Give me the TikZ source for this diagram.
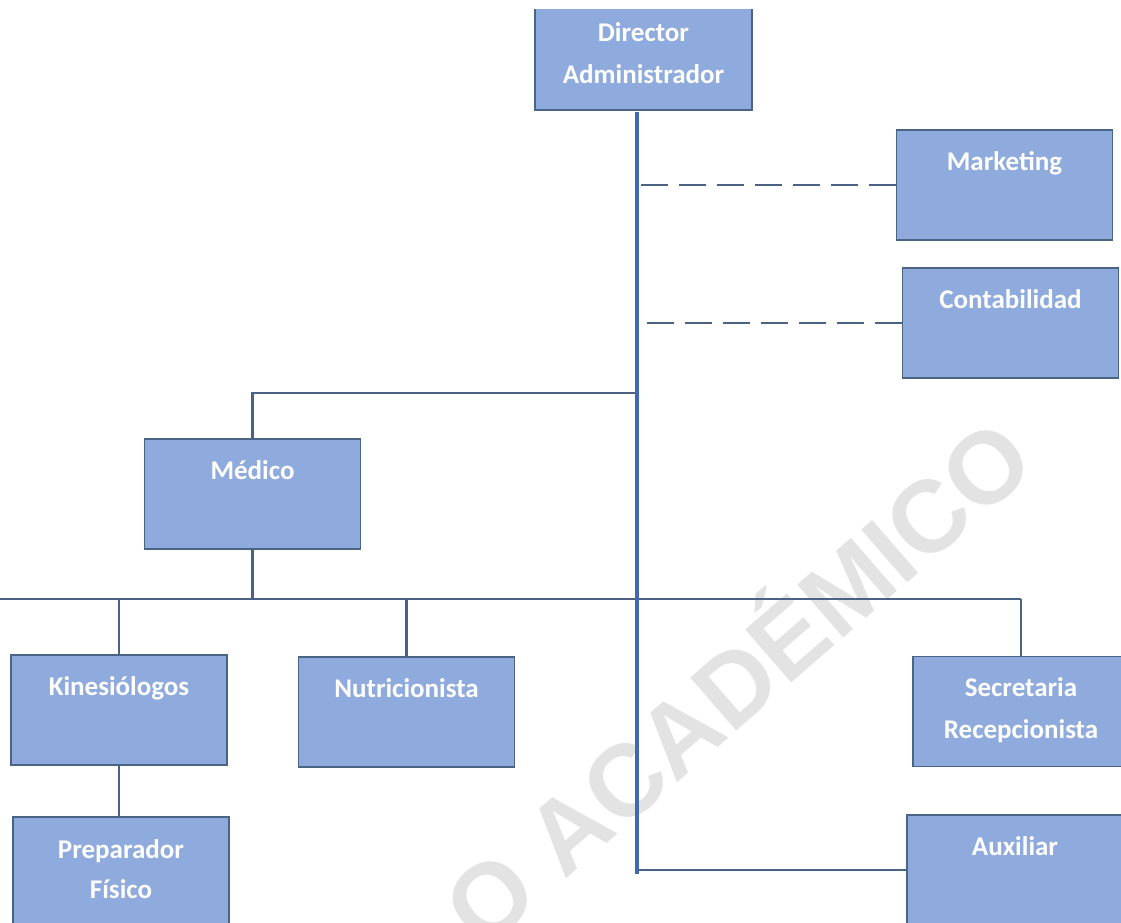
\documentclass[tikz,border=0pt]{standalone}
\usepackage{fontspec}
\setmainfont{Carlito}
\newfontfamily\markfont{Liberation Sans}
\usetikzlibrary{positioning}
\definecolor{boxfill}{HTML}{8FAADC}
\definecolor{boxedge}{HTML}{4A6584}
\definecolor{linkcol}{HTML}{4C6283}
\definecolor{trunkcol}{HTML}{4169B0}
\definecolor{markgray}{HTML}{E3E3E3}
\tikzset{%
  % Specifications for style of nodes:
    post/.style = {rectangle, draw=boxedge, fill=boxfill, line width=1.6pt,
                   minimum width=216pt, minimum height=110pt, inner sep=0pt},
    title/.style = {inner sep=0pt, align=center, text=white,
                    font=\bfseries\fontsize{27}{42}\selectfont},
    link/.style = {draw=linkcol, line width=2.8pt},
    trunk/.style = {draw=trunkcol, line width=3.4pt},
    staff/.style = {link, dash pattern=on 27pt off 11pt}%
}

\begin{document}
\begin{tikzpicture}[x=1pt,y=-1pt]
\useasboundingbox (0,0) rectangle (1121,922);
\clip (0,9) rectangle (1121,922);

% watermark
\node[text=markgray, rotate=41, font=\markfont\bfseries\fontsize{102}{102}\selectfont]
  (mark) at (732,676) {O ACADÉMICO};

\coordinate (T) at (637,112); %top of trunk
\coordinate (B) at (637,874); %end of trunk
\coordinate (A) at (637,870); %branch to auxiliar
\coordinate (M) at (637,393); %branch to medico
\coordinate (bus) at (0,599); %left end of bus

\node[post, minimum width=217pt, minimum height=130pt] (dir) at (643.5,45) {};
\node[post] (mkt) at (1004.5,185) {};
\node[post] (cont) at (1010.5,323) {};
\node[post, minimum height=110pt] (med) at (252.5,494) {};
\node[post] (kin) at (119,710) {};
\node[post] (nutr) at (406.5,712) {};
\node[post] (secr) at (1021,711.5) {};
\node[post, minimum height=118pt] (prep) at (121,876) {};
\node[post, minimum height=118pt] (aux) at (1015,874) {};

\node[title, below=43pt of dir.north] (dirtxt) {Director\\Administrador};
\node[title, below=22pt of mkt.north] (mkttxt) {Marketing};
\node[title, below=22pt of cont.north] (conttxt) {Contabilidad};
\node[title, below=22pt of med.north] (medtxt) {Médico};
\node[title, below=22pt of kin.north] (kintxt) {Kinesiólogos};
\node[title, below=22pt of nutr.north] (nutrtxt) {Nutricionista};
\node[title, below=22pt of secr.north] (secrtxt) {Secretaria\\Recepcionista};
\node[title, below=23pt of prep.north, font=\bfseries\fontsize{27}{40}\selectfont]
  (preptxt) {Preparador\\Físico};
\node[title, below=22pt of aux.north] (auxtxt) {Auxiliar};

% staff lines
\draw[staff] (mkt.west) -- (mkt.west -| T);
\draw[staff] (cont.west) -- (cont.west -| T);

% medico branch and bus
\draw[link] (M) -| (med.north);
\draw[link] (med.south) -- (med.south |- bus);
\draw[link] (bus) -- (secr.north |- bus);
\draw[link] (kin.north |- bus) -- (kin.north);
\draw[link] (nutr.north |- bus) -- (nutr.north);
\draw[link] (secr.north |- bus) -- (secr.north);
\draw[link] (kin.south) -- (kin.south |- prep.north);
\draw[link] (A) -- (aux.west |- A);

\draw[trunk] (T) -- (B);
\end{tikzpicture}
\end{document}
